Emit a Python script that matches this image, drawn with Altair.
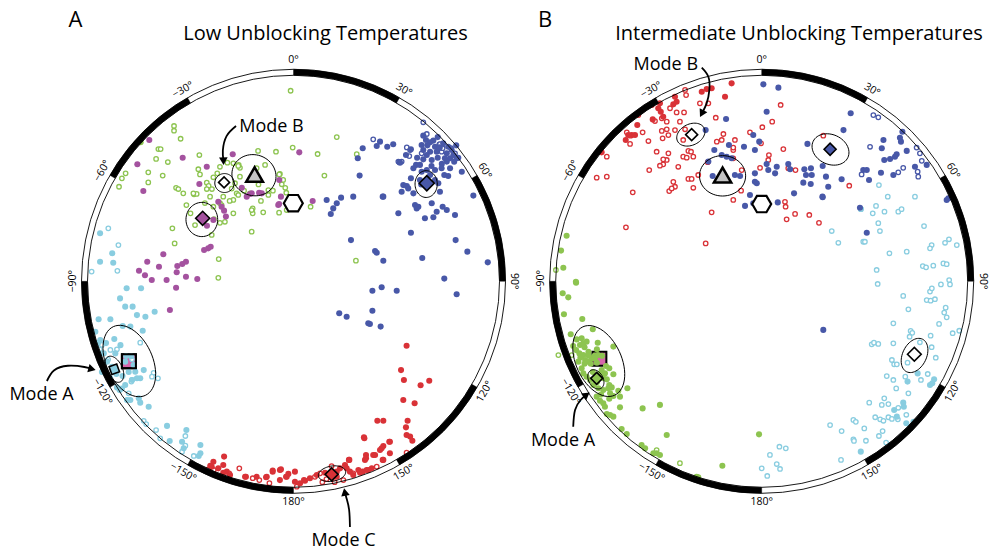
import math
import numpy as np
import pandas as pd
import altair as alt

# ------------------------------------------------------------------
# DATA  (equal-area net coordinates: primitive circle radius = 100,
#        x = east, y = north; each panel has its own net)
# ------------------------------------------------------------------
A_GREEN_OPEN = [(-1.4,92.5),(-58,75.4),(-58,73.1),(-54.8,69.2),(-65.6,64.2),(-64.5,64.2),(-66.7,59.4),(-61,57.9),
    (-81.5,52.4),(-83.3,50),(-84.7,45.9),(-70.5,52.9),(-70.5,48),(-63.5,51.3),(-57,45.4),(-55.9,44.8),(-53.5,42.7),
    (-48.3,42.2),(-47,42.4),(-45.7,61.3),(-46.2,54.4),(-45.4,51.9),(-42.1,47.9),(-41.2,46.3),(-42.1,44.8),(-39.6,44.8),
    (-38.9,50.5),(-37,52.4),(-35.7,55.6),(-32.1,57.6),(-29.2,57.3),(-26.6,56.5),(-26,55.1),(-17.2,63.3),(-8.5,62.9),
    (-0.4,64.9),(11.7,61.8),(21,70),(30.7,61.7),(15,51.3),(-13.8,56.5),(-17.9,54.9),(-12.2,41.9),(-15.8,39),(-19.8,35.4),
    (-19.8,33),(-14.7,33.5),(-20.3,24.1),(-7,33.3),(-6.6,52.1),(-5.7,47.1),(-4,45.4),(-3.5,43),(8.3,36.2),(-27.6,42.7),
    (-26,50.8),(-28.4,47.6),(-34.1,41.1),(-35.7,37.9),(-29.2,33),(-33.3,28.9),(-35.7,28.4),(-38.6,30.2),(-39.7,22.5),
    (-47.8,27.3),(-58.8,25.7),(-57.7,18.4),(-36.3,10.8),(-36.5,1.7),(30.3,10),(-26.8,56),(-6.9,51.9),(-5,49.2),
    (-12.2,44.3),(-21.1,42.7),(-26.8,41.9),(-29.2,39.5),(-34.9,37),(-38.9,36.2),(-40.5,41.1),(-48.6,42.7),(-20.3,34.6),
    (-3.3,34.6),(-24,44),(-30,45),(-31,39),(-10,44),(-17,47),(-43,38),(-50,33),(-52,37)]
A_GREEN_FILLED = [(-74.2,67.5)]
A_PURPLE_FILLED = [(-70,68.6),(-75.8,56.8),(-72.9,43.8),(-53.8,60),(-42.1,55.6),(-45.7,47.2),(-29.5,61.7),(2.8,62.6),
    (-25.1,45.4),(-21.1,42.4),(-22.7,41.1),(-16.7,43),(-6.9,49.2),(-6.1,41.1),(-7.4,37),(9.3,39),(-34.9,36.2),
    (-33.7,34.3),(-32.8,31.4),(-41.4,16),(-43.4,15.2),(-40.2,16.8),(-63.2,13.1),(-71,9.5),(-75,5.1),(-65.3,7.1),
    (-56.4,7.4),(-54,8.4),(-52.2,9.5),(-56.7,4.4),(-72.1,2.9),(-68.8,0.6),(-61.6,0.6),(-52.2,2.2),(-46.7,1.1),
    (-57,-3.1),(-60,-13.9),(-20.3,42.7),(-15.4,42.7),(-7,37.5),(-36.5,38.6),(-38.9,29.8),(-42,27)]
A_BLUE_FILLED = [(42,67.8),(45.5,65.3),(48.4,66.5),(54.6,61.3),(57,64.1),(51.7,57.6),(63,70.7),(64.3,68.6),(62.2,66.2),
    (66.3,67.5),(67.9,68.3),(68.7,65.3),(63,63.7),(66.3,62.9),(69.5,62.9),(64.7,61.3),(67.1,58.9),(63,59.2),(59.5,56.5),
    (61.4,56.5),(58.2,54.9),(72.7,67),(75.1,65.3),(74.4,62.1),(76.8,63.7),(73.5,59.7),(76,59.7),(77.6,61.3),(74.4,58.1),
    (71.9,54.9),(76,54.9),(81.7,53.2),(73.2,51.6),(75.1,51.1),(68.7,54),(64.7,54),(62.2,53.2),(66.3,51.6),(68.7,49.2),
    (53.3,46.7),(55,46.3),(55.7,45.1),(52.5,43.5),(58.2,42.7),(61.4,49.2),(70.3,47.6),(71.1,43.5),(43.6,41.1),(59,37),
    (60.6,36.2),(59.8,35.4),(67.1,37.9),(72.4,36.2),(74.4,34.6),(69.5,33.8),(63.8,30.6),(67.9,31.1),(78.4,32.2),(50.9,33),
    (87.3,41.6),(33.6,64.6),(31.2,59.7),(40.4,65.7),(32.1,51.3),(29,41.1),(23.1,40.6),(21,37.9),(19.3,35.4),(18.1,32.7),
    (16.1,39.5),(43.3,41.1),(57,23.6),(27.9,20),(39.6,14.7),(40.4,13.9),(43.6,10),(62.5,11.3),(73.2,1.3),(78.7,20),
    (84.4,14.4),(94.3,9.2),(38.3,-4.6),(42.8,-2.9),(50.1,-4.6),(79.2,-6.3),(22.2,-15.5),(25.8,-17.2),(38.3,-14.3),
    (36.3,-20.4),(37.1,-20.7),(42.3,-22),(70,70),(71,65),(65,66),(60,60),(72,57),(78,58),(70,60),(67,56),(80,60),
    (79,66),(57,50),(62,47),(79.2,59.7)]
A_BLUE_OPEN = [(63,77.2),(64.7,71.5),(55,65),(56.6,63.7),(50.9,58.1),(52.5,58.1),(70.8,66.5),(71.9,62.9),(76.5,64.6),
    (78.4,62.1),(62.2,62.1),(56.2,60.8),(38.7,68.9),(71.1,66.6),(72.4,64.6),(51.4,57.8)]
A_RED_FILLED = [(54.9,-31.3),(52.2,-43.1),(53.6,-47.9),(61.7,-50.5),(65.9,-48.3),(53.3,-57.6),(58.8,-59.2),(40.7,-67.7),
    (43.6,-67.7),(55.4,-67.7),(54.6,-70.9),(54.9,-74.6),(56.6,-75.4),(57.7,-77.4),(46.5,-77.9),(43.6,-80),(42.8,-81.1),
    (46.8,-83.5),(38.7,-84.3),(35.2,-84.3),(34.7,-86.7),(34.2,-75.7),(43.3,-86.7),(26.9,-86.7),(25,-89.2),(22.6,-90.8),
    (21,-92.4),(27.4,-92.4),(29,-94),(32.3,-92.9),(35.5,-91.6),(15.3,-92.9),(11.3,-94),(8,-95.6),(5.6,-96.8),(3.2,-98),
    (0.7,-97.3),(-3.3,-94.9),(-2.5,-93.5),(-6.6,-91.6),(-10.1,-92.4),(-13,-94.9),(-17.9,-94.9),(-23.1,-94.9),
    (-33.7,-85.1),(-34.1,-89.2),(-38.9,-87.6),(-39.7,-90),(-36.5,-90.8),(-32.4,-92.4),(-30.8,-94),(-23.5,-94.9),
    (-13.3,-95.1),(-10.1,-91.9),(-6.1,-91.3),(-6.6,-96.5),(-3.6,-94.9),(0.7,-92.4),(5.1,-96.5),(21,-94.9),(25.8,-90.8),
    (27.1,-86.7),(31.5,-91.6),(33.6,-92.4),(36.3,-91.6),(38,-90.8),(34.4,-76.2),(35.2,-85.9),(39.6,-84.3),(42,-81.9),
    (46.8,-77.9),(43.6,-86.7),(-34.1,-92.9),(-40.4,-89.5)]
A_RED_OPEN = [(54.9,-83.2),(-26.3,-90.8),(-19.8,-95.6),(-16.6,-96.5),(-11.7,-98),(1.6,-99.7),(10.4,-94.9),(12.9,-93.2),
    (18.5,-89.7),(24.2,-96.5),(29,-93.2),(40.4,-90),(-41.4,-91.3),(-31.2,-93.2),(-38.7,-91.6),(16,-96),(20,-97.5),(14,-97.5)]
A_LBLUE_FILLED = [(-81.7,-12.3),(-78.1,-12.3),(-76,-16.4),(-71.9,-17.2),(-67.4,-14.8),(-88.9,-18.4),(-94.6,-18.4),
    (-82.9,-21.7),(-79.2,-22),(-73.2,-24),(-96.2,-24.5),(-93.8,-28.5),(-92.1,-35),(-90.5,-39),(-86.5,-35),(-88.1,-41.5),
    (-81.7,-39),(-77.6,-40.6),(-76.8,-43.9),(-74.4,-47.1),(-76,-47.1),(-78.4,-47.9),(-72.7,-43.1),(-81.7,-50.3),
    (-83.3,-52),(-85.7,-51.5),(-84.4,-52.8),(-80.8,-57.6),(-79.2,-57.6),(-75.1,-56.8),(-74.4,-58.9),(-70.3,-60.9),
    (-61.4,-70.2),(-52,-72.2),(-60.1,-77.5),(-54.1,-77.9),(-45.2,-79.5),(-53.3,-81.1),(-46,-84.8),(-45.2,-83.5),
    (-93.9,23.3),(-88,13.6),(-87.5,9),(-93.9,9.5),(-81,-3.4),(-74,-3.4),(-84.2,-8.3),(-81.2,-36.3),(-78.8,-36.4),
    (-95,-30),(-91,-30),(-87,-28),(-84,-31),(-86,-45),(-83,-46),(-80,-44),(-89,-47),(-93,-44)]
A_LBLUE_OPEN = [(-89.9,25.7),(-85,17.6),(-98,4.7),(-85.5,5.1),(-93,-30.9),(-88.9,-33.3),(-85.7,-33),(-74.4,-29.8),
    (-78.4,-47.9),(-78.7,-48.7),(-67.9,-44.4),(-68.7,-46.3),(-65.8,-47.1),(-80,-54.4),(-72.7,-67.7),(-71.5,-69.3),
    (-66.7,-72.2),(-64.7,-76.2),(-52.5,-75.1),(-52.5,-79.8),(-54.1,-82.7),(-48.4,-84.8),(-78.4,-37.9),(-90,-38),(-94,-33)]

B_RED_FILLED = [(-42.1,89.6),(-41.3,87.2),(-42.9,85.9),(-29.1,92),(-26.7,93.3),(-24.3,93.7),(-17.8,89.6),(-14.6,96.1),
    (-49.4,86.4),(-50.2,84),(-49,82.3),(-52.9,78.6),(-60.4,75.9),(-66,68.6),(-63.1,71),(-61.5,71),(-77.7,62.6),
    (-53.4,85.6),(-47.8,79.9),(-64.8,71)]
B_RED_OPEN = [(-37.2,92.9),(-36.7,90.4),(-44.5,84),(-41.3,82),(-37.7,82),(-30,86.4),(-25.9,86.4),(-22.3,79.4),
    (-18.6,71.5),(-13.8,63.7),(-13.8,59.7),(-59.9,80.7),(-51.8,77.8),(-46.1,77.5),(-65.5,72.3),(-63.6,70.7),
    (-57.8,72.3),(-63.9,66.7),(-55,68.1),(-48.5,73),(-45.3,71),(-48.1,69.4),(-42.1,73.4),(-37.2,73.8),(-75.2,60.5),
    (-80.1,50.3),(-75.2,50.8),(-62.6,43.2),(-51,62.9),(-45.3,62.1),(-46.1,58.9),(-47.8,56.8),(-49.4,56.1),(-54.6,54),
    (-40.5,55.6),(-38.1,60.5),(-35.6,63.3),(-34.3,62.9),(-36.4,60),(-33.2,60.5),(-42.9,48.3),(-42.1,45.9),(-44.9,43.8),
    (-35.6,49.7),(-34,49.7),(-33.2,45.4),(-30.8,51.6),(-26.2,57.8),(-13.8,39.5),(-24.3,33.5),(-65.9,26.2),(9.2,85.6),
    (5.1,77.5),(0.3,74.8),(-5.7,72.3),(-0.3,67),(10.5,64.2),(3.5,61.3),(3.2,58.9),(-0.8,55.1),(12.9,54.9),(16.4,54),
    (-9.7,54),(-13.8,64.9),(-13,68.6),(-19.4,68.6),(-21.8,67.8),(-10,44),(11.3,38.6),(11.6,36.2),(12.1,30.1),(16.2,32.7),
    (23.1,32.2),(27.8,28.4),(29.9,70.7),(42.5,46.4),(-27.2,18.4),(-48.5,79.1),(-46.1,73.8),(-38.1,68.6),(-39.7,77.5),
    (-47.8,59.2),(-43.7,45.1)]
B_BLUE_FILLED = [(0.8,95.6),(8.1,94),(2.4,82.3),(-17.3,78.8),(-27.2,73.4),(-15.9,66.2),(-23,63.7),(-19.4,61.3),
    (-17,60.5),(-14.6,59.7),(-4.1,71),(-1.2,67.8),(-8.6,65.3),(-3.3,63.7),(-25.9,58.1),(-23.8,51.1),(-13,51.6),
    (-10.5,51.1),(-3.3,52.4),(-3.3,48.3),(-2.4,47.6),(2.4,56.9),(3.2,54),(7.3,55.6),(6.5,52.4),(12.9,56.9),(13.8,54.4),
    (-5.7,41.9),(-8.1,36.6),(-4.1,37.9),(7.8,38.3),(15.7,42.7),(20.7,54.4),(23.9,54.9),(21.5,51.6),(24.3,51.6),
    (20.2,47.9),(23.8,47.2),(22.2,66.7),(29.6,56),(31.2,50.8),(32.3,45.9),(29.5,41.1),(38.8,49.5),(39.7,73.4),
    (43.2,81.6),(49.3,54),(51,54),(52.1,49.2),(57.9,52.7),(58.3,64.6),(59.1,68.6),(59.5,58.9),(62.3,59.4),(64.7,60.5),
    (65.5,61.7),(67.1,69.7),(68.3,72.6),(67.6,67.8),(70.4,63.3),(63.9,51.6),(74.4,55.6),(80.1,56.5),(89.8,39.5),
    (90.6,40.3),(47.7,35.7),(51,23.6),(29.6,40.8),(29.9,-23.6)]
B_BLUE_OPEN = [(54.2,80.7),(56.6,79.6),(52.6,65.3),(75.2,64.9),(76.8,62.1),(77.7,58.5),(68.7,55.1),(66.3,52.9),
    (75.7,53.2),(76,50.8),(48.5,51.9)]
B_LBLUE_OPEN = [(56.9,46.7),(61.2,41.1),(74.4,41.1),(55.5,36.6),(53.9,33),(59.6,33.8),(48.2,35),(66.3,33.8),(67.9,35),
    (34,24.4),(37.2,18.7),(49.3,19.2),(50.1,19.2),(56.6,28.2),(57.4,24.4),(78.8,26.8),(62,13.6),(70.4,14.4),(82.5,17.6),
    (81.7,16),(89,18.7),(90.9,20.4),(94.7,17.6),(55.8,5.5),(56.3,-1.3),(78.2,7.4),(79.8,6.8),(83.3,7.6),(88.2,8.7),
    (89.8,8.3),(87,-1.5),(91,0.6),(91.4,-1.5),(81.7,-5),(82.6,-3.4),(80.1,-9.1),(82,-9.4),(84.1,-8.7),(68.7,-7.1),
    (71.2,-13.6),(89.3,-12.8),(88.6,-15.2),(89.8,-17.5),(86.1,-20.7),(92.7,-25.2),(95.9,-24),(63.9,-20.4),(72.3,-24.1),
    (73.1,-25),(71.8,-26.9),(82,-26.4),(82.5,-32),(84.5,-37.1),(53.4,-30.6),(54.5,-29.8),(56.6,-30.4),(63.9,-30.1),
    (70.8,-39.5),(63.2,-38.2),(64.3,-40.3),(65.6,-40.3),(76.8,-29.6),(60.7,-46),(63.9,-47.9),(69.7,-46.3),(65.3,-52),
    (71.2,-54.4),(77.3,-47.9),(80.6,-45),(52.2,-58.9),(59.5,-56.8),(58.3,-60),(61.5,-59.6),(66.3,-61.4),(55.1,-66),
    (57.5,-67),(59.1,-67.7),(61.5,-66),(63.2,-66.8),(66.1,-67),(70.2,-64.8),(44.5,-67.3),(45.7,-68.2),(49.8,-71.4),
    (33.2,-69.8),(38.8,-72.7),(58.7,-72.7),(56.9,-75.1),(44.5,-76.7),(44.8,-77.5),(50.6,-77.4),(60.4,-78.3),(38.5,-86.7),
    (0,-90.8),(2.7,-94.5),(4,-84.3),(7.3,-88.7),(8.9,-91.1),(8.6,-80.3),(11.7,-81.1),(48.1,35.1)]
B_LBLUE_FILLED = [(75.7,-44.7),(70.8,-48.7),(81.7,-50.3),(82.8,-49.5),(83.7,-47.6),(68.7,-58.9),(69,-60.9),(64.3,-62.5),
    (70.2,-68.9),(73.7,-68.2),(48.1,-82.7),(65.6,-65.7)]
B_GREEN_FILLED = [(-90.1,-0.7),(-96.6,-5.8),(-93.9,-7.8),(-96,-16),(-87.1,-18.3),(-82,-23.3),(-92.7,-25.7),(-89.8,-28.2),
    (-87.4,-27.7),(-88.2,-30.9),(-86.6,-30.1),(-85,-29.3),(-79.6,-29.8),(-91.5,-31.4),(-90.1,-33.4),(-88.5,-35),
    (-86.6,-35.8),(-84.1,-34.2),(-85.7,-38.2),(-84.1,-39),(-82.5,-37.4),(-72,-31.7),(-75.6,-41.1),(-74,-42.2),
    (-76.1,-44.7),(-77.7,-43.1),(-87.4,-42.2),(-86.6,-44.7),(-85,-46.3),(-83.3,-47.9),(-72,-45.1),(-75.2,-47.6),
    (-74,-50.3),(-81.7,-50.3),(-79.3,-51.9),(-76.9,-52.8),(-74.5,-51.9),(-72.8,-51.5),(-69.6,-53.1),(-73.6,-54.4),
    (-72,-55.7),(-68.8,-56),(-65.2,-51.9),(-80.1,-56),(-78.5,-58),(-76.9,-59.2),(-76.1,-60.9),(-68.8,-61.2),
    (-75.2,-64.4),(-73.6,-64.9),(-72,-65.7),(-57.8,-61.7),(-49.4,-60),(-68,-71.7),(-65.5,-74.1),(-46.1,-74.6),
    (-58.3,-79.5),(-56.6,-81.1),(-51,-83.5),(-49.4,-84.3),(-52.6,-83.5),(-31.6,-94.9),(-19.1,-89.5),(-1.3,-74.3),
    (-30.8,-95.1),(-94.7,22.1),(-97.4,14.9),(-96.3,6.6),(-90.2,-0.2),(-86,-32),(-84,-36),(-88,-37),(-83,-40),(-80,-33),
    (-81,-36),(-86,-40),(-89,-39),(-82,-44),(-79,-45),(-77,-47),(-80,-49),(-78,-55),(-74,-57),(-79.5,-35.8),
    (-77.5,-36.2),(-81,-37.5),(-80,-39.5)]
B_GREEN_OPEN = [(-98.7,-35.8),(-92.2,-35.8),(-51,-81.9),(-39.7,-88.3),(-99.9,5.5)]

# mean directions / modes: (panel, kind, x, y, fill key)
MARKERS = [
    ("A", "diamond", -33.7, 48.0, "white"), ("A", "diamond", -44.1, 30.6, "purple"),
    ("A", "diamond", 64.7, 47.6, "blue"), ("A", "diamond", 18.5, -93.7, "red"),
    ("A", "diamond", -87.0, -42.7, "lightblue"), ("A", "triangle", -18.9, 51.8, "gray"),
    ("A", "hexagon", -0.1, 37.9, "white"), ("A", "square", -79.9, -38.8, "pink"),
    ("B", "diamond", -34.0, 71.2, "white"), ("B", "diamond", 33.2, 64.1, "blue"),
    ("B", "diamond", 74.1, -35.4, "white"), ("B", "diamond", -80.1, -47.1, "green"),
    ("B", "triangle", -19.0, 51.6, "gray"), ("B", "hexagon", 0.0, 37.5, "white"),
    ("B", "square", -78.8, -37.6, "pink"),
]
# confidence ellipses: (panel, centre x, centre y, semi-axis a, semi-axis b, rotation deg)
ELLIPSES = [
    ("A", -19.2, 51.5, 10.8, 9.9, -20), ("A", -33.5, 47.7, 4.7, 4.6, 0), ("A", -44.5, 30.0, 7.7, 8.3, 0),
    ("A", 64.4, 47.2, 5.4, 6.5, 0), ("A", 18.7, -93.4, 6.7, 3.7, 10), ("A", -87.0, -42.7, 6.8, 3.9, 116),
    ("A", -79.7, -38.7, 18.4, 11.2, 115),
    ("B", -34.4, 71.2, 7.2, 5.1, 26), ("B", 33.4, 64.0, 9.3, 7.2, -25), ("B", -19.0, 51.2, 11.2, 9.8, 0),
    ("B", 74.2, -36.0, 8.8, 5.8, 64), ("B", -80.5, -47.6, 5.0, 3.5, 120), ("B", -79.1, -38.7, 18.3, 11.0, 115),
]
# annotation arrows (net coordinates) and their heads (x, y, bearing deg)
ARROWS = [
    ("A", [(-27.9, 75.4), (-32.5, 70.5), (-34.3, 63.5), (-34.0, 58.5)], (-34.0, 58.3, 178)),
    ("A", [(-119.7, -48.4), (-116.3, -43.3), (-109.5, -41.0), (-101.5, -41.6), (-97.8, -42.6)], (-97.8, -42.6, 105)),
    ("A", [(27.4, -119.3), (27.0, -111.0), (25.8, -105.5), (24.9, -102.3)], (24.9, -102.3, 349)),
    ("B", [(-29.1, 103.7), (-25.9, 99.3), (-25.4, 92.9), (-26.7, 86.5), (-29.1, 81.4)], (-29.1, 81.4, 208)),
    ("B", [(-91.5, -70.6), (-90.6, -62.5), (-87.8, -57.5), (-85.0, -55.1)], (-85.0, -55.1, 54)),
]
TICK_ANGLES = [0, 30, 60, 90, 120, 150, 180, -150, -120, -90, -60, -30]
BLACK_SEGMENT_STARTS = [0, 60, 120, 180, 240, 300]
TEXTS = [  # text, pixel x, pixel y (baseline), font size
    ("A", 75.5, 27, 22), ("Low Unblocking Temperatures", 325.5, 40, 20),
    ("B", 545, 27, 22), ("Intermediate Unblocking Temperatures", 799, 40, 20),
    ("Mode B", 271.5, 131.5, 18), ("Mode A", 41.5, 399.5, 18), ("Mode C", 343.5, 546, 18),
    ("Mode B", 665.8, 69.5, 18), ("Mode A", 563, 446, 18),
]

# ------------------------------------------------------------------
# STYLE / LAYOUT
# ------------------------------------------------------------------
W, H = 990, 552
PPU = 2.06                      # pixels per net unit
CX_A, CX_B, CY = 293.5, 761.7, 281.3
X_DOMAIN = [-CX_A / PPU, (W - CX_A) / PPU]
Y_DOMAIN = [-(H - CY) / PPU, CY / PPU]
OFFSET = {"A": 0.0, "B": (CX_B - CX_A) / PPU}
R_IN, R_OUT, R_LAB = 100.0, 212 / PPU, 107.2
FONT = "Open Sans"
COLORS = {"green": "#8dc450", "purple": "#a4529f", "lightblue": "#89cde0",
          "blue": "#4858a8", "red": "#d93237"}
FILLS = dict(COLORS, white="#ffffff", gray="#c4c4c4", pink="#d567aa")
MARKER_SIZE = [121, 196, 225, 169, 132, 280, 360, 196, 144, 144, 188, 144, 300, 360, 196]
MARKER_ANGLE = [0, 0, 0, 0, 25, 0, 0, 0, 0, 0, 0, 0, 0, 0, 0]
HEX = "M-1,0L-0.5,-0.866L0.5,-0.866L1,0L0.5,0.866L-0.5,0.866Z"

xs = alt.Scale(domain=X_DOMAIN, nice=False, zero=False)
ys = alt.Scale(domain=Y_DOMAIN, nice=False, zero=False)
X = lambda f: alt.X(f, type="quantitative", scale=xs, axis=None)
Y = lambda f: alt.Y(f, type="quantitative", scale=ys, axis=None)
cscale = alt.Scale(domain=list(COLORS), range=list(COLORS.values()))

# ------------------------------------------------------------------
# TABLES
# ------------------------------------------------------------------
sets = [
    ("A", "green", False, A_GREEN_OPEN), ("A", "green", True, A_GREEN_FILLED),
    ("A", "purple", True, A_PURPLE_FILLED), ("A", "blue", True, A_BLUE_FILLED),
    ("A", "blue", False, A_BLUE_OPEN), ("A", "red", True, A_RED_FILLED), ("A", "red", False, A_RED_OPEN),
    ("A", "lightblue", True, A_LBLUE_FILLED), ("A", "lightblue", False, A_LBLUE_OPEN),
    ("B", "red", True, B_RED_FILLED), ("B", "red", False, B_RED_OPEN),
    ("B", "blue", True, B_BLUE_FILLED), ("B", "blue", False, B_BLUE_OPEN),
    ("B", "lightblue", False, B_LBLUE_OPEN), ("B", "lightblue", True, B_LBLUE_FILLED),
    ("B", "green", True, B_GREEN_FILLED), ("B", "green", False, B_GREEN_OPEN),
]
rows = []
for i, (p, g, filled, pts) in enumerate(sets):
    for j, (x, y) in enumerate(pts):
        rows.append({"x": x + OFFSET[p], "y": y, "group": g, "filled": filled, "o": i * 1000 + j})
pts_df = pd.DataFrame(rows)
filled_df = pts_df[pts_df.filled]
open_df = pts_df[~pts_df.filled]

mk = pd.DataFrame([{"panel": p, "kind": k, "x": x + OFFSET[p], "y": y, "fill": FILLS[c],
                    "size": MARKER_SIZE[i], "ang": MARKER_ANGLE[i]}
                   for i, (p, k, x, y, c) in enumerate(MARKERS)])

erows = []
for i, (p, cx, cy, a, b, rot) in enumerate(ELLIPSES):
    r = math.radians(rot)
    for k, t in enumerate(np.radians(np.arange(0, 361, 6))):
        ex = cx + a * math.cos(t) * math.cos(r) - b * math.sin(t) * math.sin(r)
        ey = cy + a * math.cos(t) * math.sin(r) + b * math.sin(t) * math.cos(r)
        erows.append({"x": ex + OFFSET[p], "y": ey, "eid": i, "k": k})
ell_df = pd.DataFrame(erows)

arow, hrow = [], []
for i, (p, path, head) in enumerate(ARROWS):
    for k, (x, y) in enumerate(path):
        arow.append({"x": x + OFFSET[p], "y": y, "aid": i, "k": k})
    hrow.append({"x": head[0] + OFFSET[p], "y": head[1], "ang": head[2]})
arr_df, head_df = pd.DataFrame(arow), pd.DataFrame(hrow)

circ_df = pd.DataFrame([{"cx": OFFSET[p], "cy": 0.0, "t0": 0, "t1": 360, "r": r, "r2": 0.0}
                        for p in "AB" for r in (R_IN, R_OUT)])
seg_df = pd.DataFrame([{"cx": OFFSET[p], "cy": 0.0, "t0": s, "t1": s + 30, "r": R_OUT, "r2": R_IN}
                       for p in "AB" for s in BLACK_SEGMENT_STARTS])

lab_rows = []
for p in "AB":
    for a in TICK_ANGLES:
        rad = math.radians(a)
        rot = a if -90 <= a <= 90 else (a - 180 if a > 0 else a + 180)
        txt = ("\u2212" if a < 0 else "") + f"{abs(a)}\u00b0"
        lab_rows.append({"x": OFFSET[p] + R_LAB * math.sin(rad), "y": R_LAB * math.cos(rad),
                         "label": txt, "rot": rot % 360})
lab_df = pd.DataFrame(lab_rows)

txt_df = pd.DataFrame([{"text": t, "x": (px - CX_A) / PPU, "y": (CY - py) / PPU, "fs": fs}
                       for t, px, py, fs in TEXTS])

# ------------------------------------------------------------------
# LAYERS
# ------------------------------------------------------------------
theta_s = alt.Scale(domain=[0, 360], range=[0, 2 * math.pi])
rad_s = alt.Scale(type="linear", domain=[0, 100], range=[0, 100 * PPU], zero=True, nice=False)

def arc_enc(ch):
    return ch.encode(x=X("cx"), y=Y("cy"),
                     theta=alt.Theta("t0:Q", scale=theta_s, stack=False), theta2="t1:Q",
                     radius=alt.Radius("r:Q", scale=rad_s), radius2="r2:Q")

circles = arc_enc(alt.Chart(circ_df).mark_arc(fill="white", fillOpacity=0, stroke="black", strokeWidth=0.9))
segments = arc_enc(alt.Chart(seg_df).mark_arc(fill="black", stroke="black", strokeWidth=0.4))

squares = alt.Chart(mk[mk.kind == "square"]).mark_point(
    shape="square", filled=True, opacity=1, stroke="black", strokeWidth=2).encode(
    x=X("x"), y=Y("y"), fill=alt.Fill("fill:N", scale=None), size=alt.Size("size:Q", scale=None))

open_pts = alt.Chart(open_df).mark_point(
    shape="circle", size=20, fill="white", fillOpacity=1, opacity=1, strokeWidth=1.3).encode(
    x=X("x"), y=Y("y"), stroke=alt.Stroke("group:N", scale=cscale, legend=None), order="o:Q")
filled_pts = alt.Chart(filled_df).mark_circle(size=37, opacity=1).encode(
    x=X("x"), y=Y("y"), color=alt.Color("group:N", scale=cscale, legend=None), order="o:Q")

sq_outline = alt.Chart(mk[(mk.kind == "square") & (mk.panel == "A")]).mark_point(
    shape="square", filled=False, opacity=1, stroke="black", strokeWidth=2).encode(
    x=X("x"), y=Y("y"), size=alt.Size("size:Q", scale=None))

ellipses = alt.Chart(ell_df).mark_line(stroke="black", strokeWidth=1).encode(
    x=X("x"), y=Y("y"), detail="eid:N", order="k:Q")

def marker_layer(kind, shape, sw):
    return alt.Chart(mk[mk.kind == kind]).mark_point(
        shape=shape, filled=True, opacity=1, stroke="black", strokeWidth=sw).encode(
        x=X("x"), y=Y("y"), fill=alt.Fill("fill:N", scale=None),
        size=alt.Size("size:Q", scale=None), angle=alt.Angle("ang:Q", scale=None))

diamonds = marker_layer("diamond", "diamond", 1.6)
triangles = marker_layer("triangle", "triangle-up", 2.5)
hexagons = marker_layer("hexagon", HEX, 2.2)

arrows = alt.Chart(arr_df).mark_line(stroke="black", strokeWidth=1.8, interpolate="natural").encode(
    x=X("x"), y=Y("y"), detail="aid:N", order="k:Q")
heads = alt.Chart(head_df).mark_point(shape="triangle-up", filled=True, color="black", size=75, opacity=1).encode(
    x=X("x"), y=Y("y"), angle=alt.Angle("ang:Q", scale=None))

ticks = alt.Chart(lab_df).mark_text(font=FONT, fontSize=10.5, color="black", align="center", baseline="middle").encode(
    x=X("x"), y=Y("y"), text="label:N", angle=alt.Angle("rot:Q", scale=None))
texts = alt.Chart(txt_df).mark_text(font=FONT, color="black", align="center", baseline="alphabetic").encode(
    x=X("x"), y=Y("y"), text="text:N", size=alt.Size("fs:Q", scale=None))

chart = alt.layer(
    squares, open_pts, filled_pts, sq_outline, ellipses, diamonds, triangles, hexagons,
    circles, segments, arrows, heads, ticks, texts
).properties(
    width=W, height=H, padding=0, autosize=alt.AutoSizeParams(type="none"), background="white"
).configure_view(strokeOpacity=0)

chart.save("out.html", embed_options={"renderer": "svg", "actions": False})
